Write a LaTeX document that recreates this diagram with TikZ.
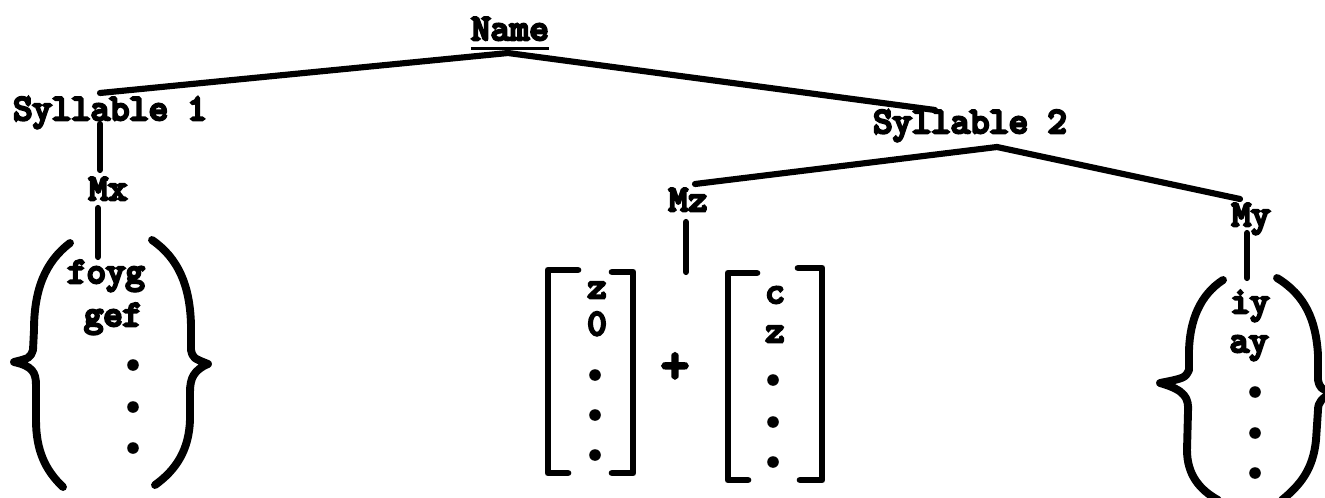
\documentclass[tikz,border=0pt]{standalone}
\usepackage{fontspec}
\newfontfamily\twfont{lmmono10-regular.otf}[FakeBold=7]
\usetikzlibrary{calc}

\tikzset{
  lbl/.style={font=\twfont\fontsize{21}{24}\selectfont, inner sep=0pt, anchor=base},
  branch/.style={line width=3.5pt, line cap=round, line join=round},
  brk/.style={line width=3.8pt, line cap=round, line join=round},
  curly/.style={line width=4.5pt, line cap=round, line join=round},
  bigdot/.style={radius=3.3pt}
}

\begin{document}
\begin{tikzpicture}[x=0.02cm, y=-0.02cm]
\useasboundingbox (0,0) rectangle (1325,497);
\clip (0,0) rectangle (1325,497);
\fill[white] (0,0) rectangle (1325,497);

% tree labels
\node[lbl] (name) at (510,40) {Name};
\node[lbl] (syl1) at (110,120) {Syllable 1};
\node[lbl] (syl2) at (970,133) {Syllable 2};
\node[lbl] (mx) at (108,200) {Mx};
\node[lbl] (mz) at (688,211) {Mz};
\node[lbl] (my) at (1251,226) {My};

% connector ends
\coordinate (root) at (508,53);
\coordinate (s1top) at (100,93);
\coordinate (s2top) at (935,110);
\coordinate (s2foot) at (997,147);
\coordinate (mztop) at (695,184);
\coordinate (mytop) at (1240,199);
\coordinate (s1foot) at (100,124);
\coordinate (mxtop) at (100,170);
\coordinate (mxfoot) at (98,208);
\coordinate (setx) at (98,257);
\coordinate (mzfoot) at (686,222);
\coordinate (sumz) at (686,272);
\coordinate (myfoot) at (1247,233);
\coordinate (sety) at (1247,278);

% underline of the root label
\draw[line width=1.6pt] ([yshift=-4.5pt]name.south west) -- ([yshift=-4.5pt]name.south east);

% branches
\draw[branch] (s1top) -- (root) -- (s2top);
\draw[branch] (mztop) -- (s2foot) -- (mytop);
\draw[branch] (s1foot) -- (mxtop);
\draw[branch] (mxfoot) -- (setx);
\draw[branch] (mzfoot) -- (sumz);
\draw[branch] (myfoot) -- (sety);

% left set in braces
\draw[curly] (70,243) .. controls (45,262) and (34,290) .. (34,330) -- (33,350)
  .. controls (30,358) .. (14,362) .. controls (32,366) and (36,372) .. (36,385)
  -- (36,420) .. controls (36,450) and (45,470) .. (63,487);
\draw[curly] (152,240) .. controls (178,258) and (190,285) .. (191,325) -- (191,350)
  .. controls (193,358) .. (208,364) .. controls (194,370) and (190,378) .. (190,392)
  -- (190,420) .. controls (189,450) and (176,470) .. (155,485);
\node[lbl] (foyg) at (106,283) {foyg};
\node[lbl] (gef) at (113,326) {gef};
\fill (133,365) circle[bigdot];
\fill (133,407) circle[bigdot];
\fill (133,448) circle[bigdot];

% two columns joined by a plus
\draw[brk] (578,270) -- (548,270) -- (548,473) -- (568,473);
\draw[brk] (612,272) -- (633,272) -- (633,473) -- (612,473);
\draw[brk] (757,273) -- (728,273) -- (728,480) -- (748,480);
\draw[brk] (798,268) -- (822,268) -- (822,480) -- (800,480);
\node[lbl] (za) at (597,298) {z};
\node[lbl] (zero) at (597,335) {0};
\node[lbl] (cb) at (775,303) {c};
\node[lbl] (zb) at (775,342) {z};
\node[lbl, anchor=center, font=\twfont\fontsize{30}{32}\selectfont] (plus) at (675,368) {+};
\fill (595,375) circle[bigdot];
\fill (595,415) circle[bigdot];
\fill (595,455) circle[bigdot];
\fill (773,380) circle[bigdot];
\fill (773,422) circle[bigdot];
\fill (773,462) circle[bigdot];

% right set in braces
\draw[curly] (1223,280) .. controls (1200,295) and (1190,320) .. (1189,350) -- (1189,370)
  .. controls (1185,378) .. (1160,383) .. controls (1185,390) and (1189,398) .. (1188,412)
  -- (1187,450) .. controls (1187,475) and (1200,490) .. (1218,500);
\draw[curly] (1277,278) .. controls (1305,295) and (1316,320) .. (1318,355) -- (1318,380)
  .. controls (1320,388) .. (1332,393) .. controls (1322,398) and (1318,402) .. (1318,410)
  -- (1316,440) .. controls (1313,470) and (1300,485) .. (1282,500);
\node[lbl] (iy) at (1250,313) {iy};
\node[lbl] (ay) at (1249,352) {ay};
\fill (1255,392) circle[bigdot];
\fill (1255,433) circle[bigdot];
\fill (1255,473) circle[bigdot];
\end{tikzpicture}
\end{document}
